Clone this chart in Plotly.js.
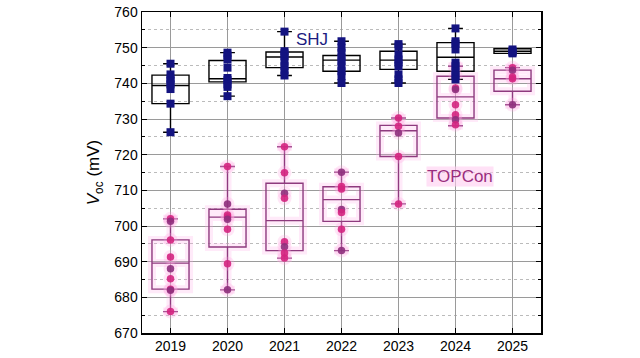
<!DOCTYPE html>
<html><head><meta charset="utf-8">
<script src="https://cdn.plot.ly/plotly-3.0.1.min.js"></script>
<style>html,body{margin:0;padding:0;background:#fff}#chart{width:640px;height:358px}</style>
</head><body><div id="chart"></div>
<script>
const years = ['2019','2020','2021','2022','2023','2024','2025'];

const shjPoints = [
  [745.5, 742.5, 741.3, 740.6, 739.7, 738.4, 734.3, 726.3],
  [748.6, 747.8, 746.7, 744.4, 741.5, 740.9, 739.7, 739.0, 736.4],
  [754.5, 749.0, 748.4, 747.6, 746.2, 744.8, 743.6, 742.2],
  [751.8, 750.0, 748.6, 747.2, 746.2, 744.8, 743.4, 742.0, 740.1],
  [751.0, 750.3, 748.1, 746.7, 745.8, 744.8, 742.5, 741.1, 740.1],
  [755.4, 751.8, 751.1, 749.5, 745.8, 744.8, 743.4, 742.2, 741.1],
  [749.5, 749.0, 748.7, 748.4]
];
const shjQ1     = [734.3, 740.4, 744.4, 743.4, 743.9, 743.4, 748.4];
const shjMedian = [739.4, 741.3, 747.4, 746.5, 746.5, 747.3, 749.0];
const shjQ3     = [742.3, 746.4, 748.8, 747.8, 749.0, 751.4, 749.7];
const shjLow    = [726.3, 736.4, 742.2, 740.1, 740.1, 741.1, 748.4];
const shjHigh   = [745.5, 748.6, 754.5, 751.8, 751.0, 755.4, 749.5];

const topPoints = [
  [702.0, 701.3, 696.1, 691.3, 688.0, 685.2, 682.3, 682.0, 676.0],
  [716.7, 706.2, 703.1, 702.5, 701.9, 699.1, 689.4, 682.1],
  [722.2, 714.9, 709.2, 707.8, 695.6, 694.2, 692.4, 691.0],
  [715.1, 711.1, 710.4, 704.6, 703.8, 699.1, 693.1],
  [730.3, 728.0, 726.1, 719.5, 706.2],
  [744.8, 742.2, 738.7, 738.3, 734.0, 731.2, 729.8, 728.4],
  [744.4, 743.7, 741.8, 741.3, 734.0]
];
const topQ1     = [682.3, 694.1, 693.1, 701.3, 719.5, 730.3, 737.8];
const topMedian = [689.6, 702.5, 701.5, 707.4, 726.7, 736.2, 741.3];
const topQ3     = [696.1, 704.7, 712.0, 711.0, 728.2, 742.0, 743.7];
const topLow    = [676.0, 682.1, 691.0, 693.1, 706.2, 728.1, 734.0];
const topHigh   = [702.0, 716.7, 722.2, 715.1, 730.3, 744.8, 744.4];

function flatten(pts){
  const xs=[], ys=[];
  pts.forEach((arr,i)=>arr.forEach(v=>{xs.push(years[i]); ys.push(v);}));
  return {xs, ys};
}
const shjF = flatten(shjPoints), topF = flatten(topPoints);
const topColors = topF.ys.map((v,i)=> i%3===1 ? '#8e2f7c' : '#d4237f');

function boxTrace(q1,med,q3,lo,hi,color,width){
  return {type:'box', x:years, q1:q1, median:med, q3:q3, lowerfence:lo, upperfence:hi,
    boxpoints:false, width:0.65, whiskerwidth:0.4, line:{color:color,width:width},
    fillcolor:'rgba(0,0,0,0)', hoverinfo:'skip', showlegend:false};
}

const traces = [
  boxTrace(topQ1,topMedian,topQ3,topLow,topHigh,'rgba(255,170,230,0.25)',8),
  boxTrace(topQ1,topMedian,topQ3,topLow,topHigh,'#8e3a7e',1.4),
  boxTrace(shjQ1,shjMedian,shjQ3,shjLow,shjHigh,'#000000',1.4),
  {type:'scatter', mode:'markers', x:topF.xs, y:topF.ys, showlegend:false, hoverinfo:'skip',
   marker:{symbol:'circle', size:14, color:'rgba(255,160,225,0.25)'}},
  {type:'scatter', mode:'markers', x:topF.xs, y:topF.ys, showlegend:false,
   marker:{symbol:'circle', size:7.5, color:topColors, opacity:0.9}},
  {type:'scatter', mode:'markers', x:shjF.xs, y:shjF.ys, showlegend:false,
   marker:{symbol:'square', size:8, color:'#131380'}}
];

const layout = {
  width:640, height:358,
  margin:{l:142, r:99, t:12, b:25},
  paper_bgcolor:'#fff', plot_bgcolor:'#fff',
  font:{family:'"Liberation Sans", Arial, sans-serif', size:14, color:'#000'},
  boxmode:'overlay',
  xaxis:{type:'category', categoryorder:'array', categoryarray:years, range:[-0.5,6.5],
    showgrid:true, gridcolor:'#9a9a9a', gridwidth:1,
    showline:true, linecolor:'#000', linewidth:1.5, mirror:'ticks',
    ticks:'inside', ticklen:5, tickcolor:'#000', tickfont:{size:14}, zeroline:false, fixedrange:true},
  yaxis:{range:[670,760], dtick:10, tick0:670,
    showgrid:true, gridcolor:'#9a9a9a', gridwidth:1,
    minor:{dtick:5, showgrid:true, gridcolor:'#bbbbbb', griddash:'dot', ticks:'inside', ticklen:3, tickcolor:'#000'},
    showline:true, linecolor:'#000', linewidth:1.5, mirror:'ticks',
    ticks:'inside', ticklen:5, tickcolor:'#000', tickfont:{size:14}, zeroline:false,
    title:{text:'<i>V</i><sub>oc</sub> (mV)', font:{size:17}, standoff:10}},
  annotations:[
    {xref:'paper', yref:'paper', x:0.427, y:0.913, xanchor:'center', yanchor:'middle', text:'SHJ', showarrow:false,
     font:{size:17, color:'#1c1c80'}},
    {xref:'paper', yref:'paper', x:0.798, y:0.489, xanchor:'center', yanchor:'middle', text:'TOPCon', showarrow:false,
     bgcolor:'rgba(255,205,240,0.6)', borderpad:0, font:{size:17, color:'#9a2e7e'}}
  ]
};
Plotly.newPlot('chart', traces, layout, {displayModeBar:false, staticPlot:true});
</script>
</body></html>
